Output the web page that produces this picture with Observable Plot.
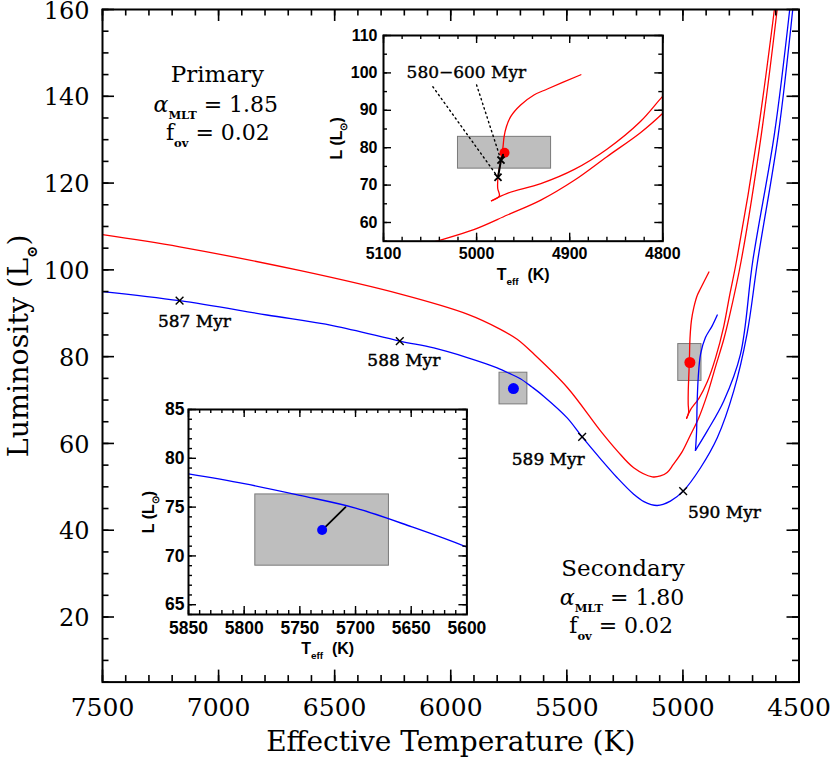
<!DOCTYPE html>
<html>
<head>
<meta charset="utf-8">
<script src="https://cdn.jsdelivr.net/npm/d3@7"></script>
<script src="https://cdn.jsdelivr.net/npm/@observablehq/plot@0.6"></script>
<style>
  body { margin: 0; background: #fff; }
  #wrap { position: relative; width: 830px; height: 757px; background: #fff; }
  #wrap svg { position: absolute; overflow: visible; background: transparent !important; }
  #wrap text { white-space: pre; }
</style>
</head>
<body>
<div id="wrap"></div>
<script>
// ================= DATA =================
// Primary star (red): main sequence + first red-giant ascent
const priRgbT = [7500, 7168, 6647, 6216, 5929, 5786, 5714, 5642, 5498, 5355, 5283, 5212, 5132, 5097, 5068, 5042, 5003, 4967, 4931, 4895, 4860, 4824, 4800, 4749, 4662, 4594];
const priRgbL = [108.1, 105.3, 99.8, 94.4, 89.8, 86.3, 84.0, 80.6, 72.9, 62.9, 58.3, 54.4, 52.3, 52.5, 53.3, 55.1, 58.1, 62.0, 66.0, 71.3, 77.6, 84.0, 89.2, 102.1, 131.3, 160.0];
// Primary: descent after the tip, down to the hook
const priDescT = [4606, 4678, 4769, 4800, 4824, 4860, 4895, 4931, 4967, 4984];
const priDescL = [160.0, 131.3, 102.1, 93.8, 87.0, 79.6, 74.2, 70.4, 67.8, 65.8];
// Primary: clump track from the hook
const priClumpT = [4984, 4975.6, 4977.3, 4977, 4973.8, 4971.6, 4970.5, 4968, 4963.4, 4952.7, 4938.4, 4924, 4888];
const priClumpL = [65.8, 67.1, 69.1, 72.1, 76.7, 80.3, 82.9, 85.6, 88.3, 91.4, 94.1, 95.7, 99.5];

// Secondary star (blue)
const secRgbT = [7500, 7168, 6792, 6504, 6219.5, 6073, 5929, 5850, 5800, 5750, 5700, 5650, 5600, 5498.5, 5434, 5354, 5283, 5212, 5168, 5111, 5054, 4999, 4924, 4852, 4781, 4724, 4678, 4589, 4527];
const secRgbL = [95.0, 92.9, 89.6, 87.1, 83.6, 82.0, 79.8, 78.4, 77.4, 76.2, 74.9, 73.0, 70.9, 65.9, 61.5, 56.4, 52.1, 48.3, 46.6, 45.7, 46.7, 49.0, 54.4, 61.3, 72.1, 85.2, 102.1, 131.3, 160.0];
const secDescT = [4540, 4606, 4699, 4752, 4824, 4895, 4946];
const secDescL = [160.0, 131.3, 102.1, 80.6, 69.8, 62.9, 58.4];
const secClumpT = [4946, 4941, 4939, 4934, 4924, 4903, 4874, 4852];
const secClumpL = [58.4, 62.9, 69.0, 75.2, 80.6, 84.4, 87.1, 89.6];

// Observed stars: Teff, error, L, error
const obsName = ["Primary", "Secondary"];
const obsT = [4970, 5730];
const obsTerr = [50, 60];
const obsL = [78.65, 72.65];
const obsLerr = [4.25, 3.65];

// Age markers on the secondary track
const ageLabel = ["587 Myr", "588 Myr", "589 Myr", "590 Myr"];
const ageT = [7168, 6219.5, 5434, 4999];
const ageL = [92.9, 83.6, 61.5, 49.0];
const ageLabelT = [7104, 6202, 5580, 4821];
const ageLabelL = [88.1, 79.2, 56.4, 44.0];

// Inset 1 (primary): 580 and 600 Myr markers and leader lines
const clumpAgeT = [4977, 4973.8];
const clumpAgeL = [72.1, 76.7];
const leaderT = [5047, 5000];
const leaderL = [96.3, 96.8];
const blackSegT = [4977, 4973.8, 4971.6];
const blackSegL = [72.1, 76.7, 78.1];
const clumpLabel = "580\u2212600 Myr";
const clumpLabelT = 5011;
const clumpLabelL = 100.1;

// Inset 2 (secondary): connector from the star to the model
const connT = [5730, 5709];
const connL = [72.65, 75.0];

// Annotations
const headText = ["Primary", "Secondary"];
const headT = [7005, 5258];
const headL = [145.1, 31.2];
const paramText = ["*\u03b1*_{MLT} = 1.85", "f_{ov} = 0.02", "*\u03b1*_{MLT} = 1.80", "f_{ov} = 0.02"];
const paramT = [7012, 7003, 5262, 5266];
const paramL = [138.1, 131.6, 24.5, 17.97];

// Ticks
const xMajor = [7500, 7000, 6500, 6000, 5500, 5000, 4500];
const xTickLabels = ["7500", "7000", "6500", "6000", "5500", "5000", "4500"];
const xMinor = d3.range(4500, 7501, 100);
const yMajor = [20, 40, 60, 80, 100, 120, 140, 160];
const yTickLabels = ["20", "40", "60", "80", "100", "120", "140", "160"];
const yMinor = d3.range(5, 161, 5);

const i1xMajor = [5100, 5000, 4900, 4800];
const i1xLabels = ["5100", "5000", "4900", "4800"];
const i1xMinor = d3.range(4800, 5101, 20);
const i1yMajor = [60, 70, 80, 90, 100, 110];
const i1yLabels = ["60", "70", "80", "90", "100", "110"];
const i1yMinor = d3.range(55, 111, 5);

const i2xMajor = [5850, 5800, 5750, 5700, 5650, 5600];
const i2xLabels = ["5850", "5800", "5750", "5700", "5650", "5600"];
const i2xMinor = d3.range(5600, 5851, 10);
const i2yMajor = [65, 70, 75, 80, 85];
const i2yLabels = ["65", "70", "75", "80", "85"];
const i2yMinor = d3.range(64, 86, 1);

// ================= HELPERS =================
const pts = (T, L) => T.map((t, i) => ({T: t, L: L[i]}));
const priRgb = pts(priRgbT, priRgbL), priDesc = pts(priDescT, priDescL), priClump = pts(priClumpT, priClumpL);
const secRgb = pts(secRgbT, secRgbL), secDesc = pts(secDescT, secDescL), secClump = pts(secClumpT, secClumpL);
const obs = obsName.map((n, i) => ({name: n, T: obsT[i], dT: obsTerr[i], L: obsL[i], dL: obsLerr[i]}));
const obsP = obs.filter(d => d.name === "Primary"), obsS = obs.filter(d => d.name === "Secondary");
const ages = ageLabel.map((s, i) => ({s, T: ageT[i], L: ageL[i], lT: ageLabelT[i], lL: ageLabelL[i]}));
const heads = headText.map((s, i) => ({s, T: headT[i], L: headL[i]}));
const params = paramText.map((s, i) => ({s, T: paramT[i], L: paramL[i]}));
const leaders = leaderT.flatMap((t, i) => [{T: t, L: leaderL[i], k: i}, {T: clumpAgeT[i], L: clumpAgeL[i], k: i}]);

const SERIF = "DejaVu Serif";
const SANS = "Liberation Sans, Arial, sans-serif";
const RED = "#ff0000", BLUE = "#0000ff";

function frameTicks({xMaj, xMin, yMaj, yMin, fw, fh, maj, min, sw}) {
  const o = {stroke: "black", strokeWidth: sw};
  return [
    Plot.ruleX(xMin, {x: d => d, insetTop: fh - min, ...o}),
    Plot.ruleX(xMin, {x: d => d, insetBottom: fh - min, ...o}),
    Plot.ruleX(xMaj, {x: d => d, insetTop: fh - maj, ...o}),
    Plot.ruleX(xMaj, {x: d => d, insetBottom: fh - maj, ...o}),
    Plot.ruleY(yMin, {y: d => d, insetRight: fw - min, ...o}),
    Plot.ruleY(yMin, {y: d => d, insetLeft: fw - min, ...o}),
    Plot.ruleY(yMaj, {y: d => d, insetRight: fw - maj, ...o}),
    Plot.ruleY(yMaj, {y: d => d, insetLeft: fw - maj, ...o})
  ];
}

const NS = "http://www.w3.org/2000/svg";
function richText(svg) {
  svg.querySelectorAll("text").forEach(t => {
    const s = t.textContent;
    if (!/_\{|\*/.test(s)) return;
    const fs = parseFloat(getComputedStyle(t).fontSize);
    const subScale = fs > 20 ? 0.52 : 0.62;
    const parts = s.split(/(_\{[^}]*\}|\*[^*]*\*)/).filter(p => p !== "");
    while (t.firstChild) t.removeChild(t.firstChild);
    let down = 0;
    for (const p of parts) {
      const ts = document.createElementNS(NS, "tspan");
      if (p.startsWith("_{")) {
        ts.textContent = p.slice(2, -1);
        ts.setAttribute("font-size", (fs * subScale).toFixed(2));
        ts.setAttribute("font-weight", "bold");
        ts.setAttribute("dy", (fs * 0.32).toFixed(2));
        down = fs * 0.32;
      } else {
        if (p.startsWith("*")) { ts.textContent = p.slice(1, -1); ts.setAttribute("font-style", "italic"); }
        else ts.textContent = p;
        if (down) { ts.setAttribute("dy", (-down).toFixed(2)); down = 0; }
      }
      t.appendChild(ts);
    }
  });
}

const wrap = document.getElementById("wrap");

// ================= MAIN PLOT =================
const W = 830, H = 757, mL = 102, mR = 31.5, mT = 9, mB = 75.4;
const fw = W - mL - mR, fh = H - mT - mB;
const lineOpt = {x: "T", y: "L", strokeWidth: 1.3, curve: "catmull-rom", clip: true};

const main = Plot.plot({
  width: W, height: H,
  marginLeft: mL, marginRight: mR, marginTop: mT, marginBottom: mB,
  x: {domain: [7500, 4500], axis: null},
  y: {domain: [5, 160], axis: null},
  marks: [
    Plot.rect(obs, {x1: d => d.T - d.dT, x2: d => d.T + d.dT, y1: d => d.L - d.dL, y2: d => d.L + d.dL, fill: "#bebebe", stroke: "#7a7a7a", strokeWidth: 1}),
    Plot.line(priRgb, {...lineOpt, stroke: RED}),
    Plot.line(priDesc, {...lineOpt, stroke: RED}),
    Plot.line(priClump, {...lineOpt, stroke: RED}),
    Plot.line(secRgb, {...lineOpt, stroke: BLUE}),
    Plot.line(secDesc, {...lineOpt, stroke: BLUE}),
    Plot.line(secClump, {...lineOpt, stroke: BLUE}),
    Plot.dot(obsP, {x: "T", y: "L", r: 5.5, fill: RED}),
    Plot.dot(obsS, {x: "T", y: "L", r: 5.5, fill: BLUE}),
    Plot.dot(ages, {x: "T", y: "L", symbol: "times", r: 3.6, stroke: "black", strokeWidth: 1.4}),
    Plot.text(ages, {x: "lT", y: "lL", text: "s", fontSize: 17, fontFamily: SERIF, fill: "black", stroke: "black", strokeWidth: 0.45}),
    Plot.text(heads, {x: "T", y: "L", text: "s", fontSize: 23, fontFamily: SERIF, fill: "black"}),
    Plot.text(params, {x: "T", y: "L", text: "s", fontSize: 22, fontFamily: SERIF, fill: "black"}),
    ...frameTicks({xMaj: xMajor, xMin: xMinor, yMaj: yMajor, yMin: yMinor, fw, fh, maj: 12, min: 6.5, sw: 1.6}),
    Plot.frame({stroke: "black", strokeWidth: 2}),
    Plot.text(xMajor, {x: d => d, text: (d, i) => xTickLabels[i], frameAnchor: "bottom", lineAnchor: "middle", dy: 25.5, fontSize: 25, fontFamily: SERIF}),
    Plot.text(yMajor, {y: d => d, text: (d, i) => yTickLabels[i], frameAnchor: "left", lineAnchor: "middle", dx: -13, dy: 1.5, textAnchor: "end", fontSize: 24, fontFamily: SERIF}),
    Plot.text(["Effective Temperature (K)"], {text: d => d, frameAnchor: "bottom", lineAnchor: "middle", textAnchor: "middle", dy: 60, fontSize: 28, fontFamily: SERIF}),
    Plot.text(["Luminosity (L_{\u2299})"], {text: d => d, frameAnchor: "left", lineAnchor: "middle", textAnchor: "middle", dx: -84, rotate: -90, fontSize: 28.5, fontFamily: SERIF})
  ]
});
main.style.left = "0px"; main.style.top = "0px";
wrap.appendChild(main);

// ================= INSET 1 (primary) =================
{
  const l = 60, r = 22, t = 14, b = 46;
  const iw = 279.3, ih = 205.7;
  const opt = {x: "T", y: "L", strokeWidth: 1.3, curve: "catmull-rom", clip: true};
  const inset = Plot.plot({
    width: l + iw + r, height: t + ih + b,
    marginLeft: l, marginRight: r, marginTop: t, marginBottom: b,
    x: {domain: [5100, 4800], axis: null},
    y: {domain: [55, 110], axis: null},
    marks: [
      Plot.frame({fill: "white"}),
      Plot.rect(obsP, {x1: d => d.T - d.dT, x2: d => d.T + d.dT, y1: d => d.L - d.dL, y2: d => d.L + d.dL, fill: "#bebebe", stroke: "#7a7a7a", strokeWidth: 1}),
      Plot.line(leaders, {x: "T", y: "L", z: "k", stroke: "black", strokeWidth: 1.4, strokeDasharray: "1.4,3.4"}),
      Plot.line(priRgb, {...opt, stroke: RED}),
      Plot.line(priDesc, {...opt, stroke: RED}),
      Plot.line(priClump, {...opt, stroke: RED}),
      Plot.dot(obsP, {x: "T", y: "L", r: 5, fill: RED}),
      Plot.line(pts(blackSegT, blackSegL), {x: "T", y: "L", stroke: "black", strokeWidth: 2}),
      Plot.dot(pts(clumpAgeT, clumpAgeL), {x: "T", y: "L", symbol: "times", r: 3.3, stroke: "black", strokeWidth: 1.8}),
      Plot.text([clumpLabel], {x: clumpLabelT, y: clumpLabelL, text: d => d, fontSize: 17, fontFamily: SERIF, fill: "black", stroke: "black", strokeWidth: 0.4}),
      ...frameTicks({xMaj: i1xMajor, xMin: i1xMinor, yMaj: i1yMajor, yMin: i1yMinor, fw: iw, fh: ih, maj: 8, min: 4, sw: 1.4}),
      Plot.frame({stroke: "black", strokeWidth: 2}),
      Plot.text(i1xMajor, {x: d => d, text: (d, i) => i1xLabels[i], frameAnchor: "bottom", lineAnchor: "middle", dy: 12.8, fontSize: 16, fontWeight: "bold", fontFamily: SANS}),
      Plot.text(i1yMajor, {y: d => d, text: (d, i) => i1yLabels[i], frameAnchor: "left", lineAnchor: "middle", dx: -6, textAnchor: "end", fontSize: 16, fontWeight: "bold", fontFamily: SANS}),
      Plot.text(["T_{eff}  (K)"], {text: d => d, frameAnchor: "bottom", lineAnchor: "middle", textAnchor: "middle", dy: 33.5, fontSize: 16, fontWeight: "bold", fontFamily: SANS}),
      Plot.text(["L (L_{\u2299})"], {text: d => d, frameAnchor: "left", lineAnchor: "middle", textAnchor: "middle", dx: -47, rotate: -90, fontSize: 16, fontWeight: "bold", fontFamily: SANS})
    ]
  });
  inset.style.left = (383 - l) + "px"; inset.style.top = (35 - t) + "px";
  wrap.appendChild(inset);
}

// ================= INSET 2 (secondary) =================
{
  const l = 52, r = 20, t = 14, b = 46;
  const iw = 278.4, ih = 205;
  const opt = {x: "T", y: "L", strokeWidth: 1.4, curve: "catmull-rom", clip: true};
  const inset = Plot.plot({
    width: l + iw + r, height: t + ih + b,
    marginLeft: l, marginRight: r, marginTop: t, marginBottom: b,
    x: {domain: [5850, 5600], axis: null},
    y: {domain: [64, 85], axis: null},
    marks: [
      Plot.frame({fill: "white"}),
      Plot.rect(obsS, {x1: d => d.T - d.dT, x2: d => d.T + d.dT, y1: d => d.L - d.dL, y2: d => d.L + d.dL, fill: "#bebebe", stroke: "#7a7a7a", strokeWidth: 1}),
      Plot.line(secRgb, {...opt, stroke: BLUE}),
      Plot.line(pts(connT, connL), {x: "T", y: "L", stroke: "black", strokeWidth: 1.8}),
      Plot.dot(obsS, {x: "T", y: "L", r: 5, fill: BLUE}),
      ...frameTicks({xMaj: i2xMajor, xMin: i2xMinor, yMaj: i2yMajor, yMin: i2yMinor, fw: iw, fh: ih, maj: 8, min: 4, sw: 1.4}),
      Plot.frame({stroke: "black", strokeWidth: 2}),
      Plot.text(i2xMajor, {x: d => d, text: (d, i) => i2xLabels[i], frameAnchor: "bottom", lineAnchor: "middle", dy: 14.3, fontSize: 17.5, fontWeight: "bold", fontFamily: SANS}),
      Plot.text(i2yMajor, {y: d => d, text: (d, i) => i2yLabels[i], frameAnchor: "left", lineAnchor: "middle", dx: -4, textAnchor: "end", fontSize: 17.5, fontWeight: "bold", fontFamily: SANS}),
      Plot.text(["T_{eff}  (K)"], {text: d => d, frameAnchor: "bottom", lineAnchor: "middle", textAnchor: "middle", dy: 34, fontSize: 16, fontWeight: "bold", fontFamily: SANS}),
      Plot.text(["L (L_{\u2299})"], {text: d => d, frameAnchor: "left", lineAnchor: "middle", textAnchor: "middle", dx: -40, rotate: -90, fontSize: 16, fontWeight: "bold", fontFamily: SANS})
    ]
  });
  inset.style.left = (188.3 - l) + "px"; inset.style.top = (409 - t) + "px";
  wrap.appendChild(inset);
}

wrap.querySelectorAll("svg").forEach(richText);
</script>
</body>
</html>
